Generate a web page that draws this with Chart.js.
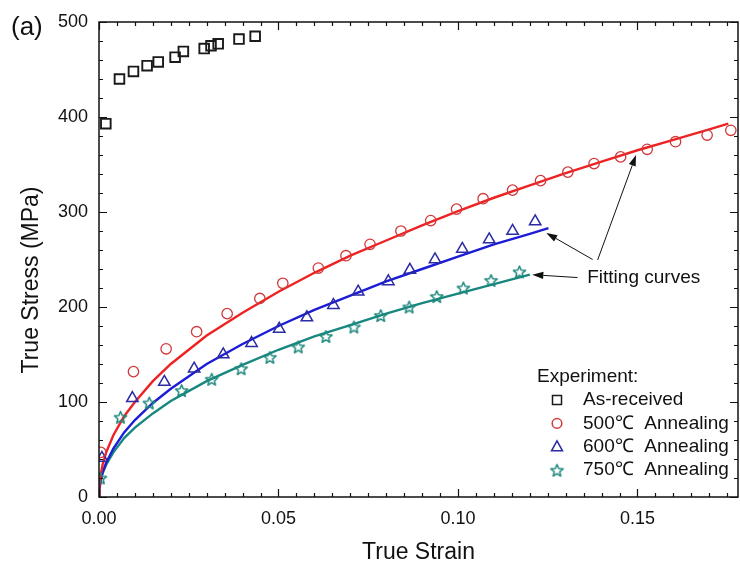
<!DOCTYPE html>
<html>
<head>
<meta charset="utf-8">
<title>True stress - true strain</title>
<script src="https://cdn.jsdelivr.net/npm/chart.js@4.4.1/dist/chart.umd.min.js"></script>
<style>
  html, body { margin: 0; padding: 0; background: #fff; }
</style>
</head>
<body>
<canvas id="chart" width="740" height="568"></canvas>
<script>
// ---- data ----
const xTicks = [0, 0.05, 0.10, 0.15];
const yTicks = [0, 100, 200, 300, 400, 500];

// experiment points (strain, MPa)
const asReceivedStrain = [0.0019, 0.0057, 0.0096, 0.0134, 0.0165, 0.0212, 0.0235, 0.0293, 0.0312, 0.0332, 0.0390, 0.0435];
const asReceivedStress = [393, 440, 448, 454, 458, 463, 469, 472, 475, 477, 482, 485];

const exp500Strain = [0.0005, 0.0096, 0.0187, 0.0272, 0.0357, 0.0448, 0.0512, 0.0611, 0.0688, 0.0755, 0.0841, 0.0924,
                      0.0996, 0.1070, 0.1152, 0.1230, 0.1306, 0.1379, 0.1453, 0.1527, 0.1606, 0.1694, 0.1760];
const exp500Stress = [47, 132, 156, 174, 193, 209, 225, 241, 254, 266, 280, 291, 303, 314, 323, 333, 342, 351, 358, 366, 374, 381, 386];

const exp600Strain = [0.0008, 0.0093, 0.0182, 0.0265, 0.0346, 0.0425, 0.0502, 0.0579, 0.0653, 0.0722, 0.0806, 0.0866,
                      0.0936, 0.1012, 0.1087, 0.1152, 0.1215];
const exp600Stress = [41, 104, 121, 135, 150, 162, 177, 189, 202, 216, 227, 239, 250, 261, 271, 280, 290];

const exp750Strain = [0.0004, 0.0060, 0.0140, 0.0230, 0.0314, 0.0396, 0.0476, 0.0555, 0.0632, 0.0710, 0.0785, 0.0864,
                      0.0941, 0.1015, 0.1092, 0.1171];
const exp750Stress = [20, 84, 99, 112, 124, 135, 147, 158, 169, 179, 191, 200, 211, 220, 228, 237];

// fitting curves
const fit500Strain = [0, 0.0001, 0.0005, 0.001, 0.002, 0.004, 0.007, 0.01, 0.015, 0.02, 0.03, 0.04, 0.05, 0.06, 0.07,
                      0.08, 0.09, 0.10, 0.11, 0.12, 0.13, 0.14, 0.15, 0.16, 0.17, 0.1753];
const fit500Stress = [0, 11, 24, 34, 47, 65, 85, 100, 122, 140, 170, 194, 216, 236, 254, 270, 286, 301, 315, 328, 341, 353, 365, 376, 387, 393];

const fit600Strain = [0, 0.0001, 0.0005, 0.001, 0.002, 0.004, 0.007, 0.01, 0.015, 0.02, 0.03, 0.04, 0.05, 0.06, 0.07,
                      0.08, 0.09, 0.10, 0.11, 0.12, 0.1252];
const fit600Stress = [0, 8, 18, 26, 36, 51, 68, 81, 99, 114, 140, 161, 180, 197, 212, 227, 240, 253, 266, 277, 283];

const fit750Strain = [0, 0.0001, 0.0005, 0.001, 0.002, 0.004, 0.007, 0.01, 0.015, 0.02, 0.03, 0.04, 0.05, 0.06, 0.07,
                      0.08, 0.09, 0.10, 0.11, 0.12];
const fit750Stress = [0, 8, 18, 25, 34, 47, 62, 73, 88, 101, 122, 139, 155, 169, 181, 193, 204, 214, 224, 234];

// ---- styling ----
const FONT = 'Arial, "Liberation Sans", sans-serif';
const INK = '#111';
const C = {
  square: '#1a1a1a', circle: '#d0393b', tri: '#2b2ba3', star: '#1d887d',
  line500: '#ee2222', line600: '#1c1cd6', line750: '#17877f'
};

function pts(xs, ys) { return xs.map((x, i) => ({ x, y: ys[i] })); }

// hollow 5-point star as a point image (Chart.js 'star' is an asterisk)
function makeStar(color, r) {
  const s = Math.ceil(r * 2 + 4);
  const c = document.createElement('canvas');
  c.width = s; c.height = s;
  const g = c.getContext('2d');
  g.strokeStyle = color;
  g.lineWidth = 1.5;
  g.lineJoin = 'round';
  g.beginPath();
  for (let i = 0; i < 10; i++) {
    const rr = i % 2 ? r * 0.45 : r;
    const a = -Math.PI / 2 + i * Math.PI / 5;
    const px = s / 2 + rr * Math.cos(a), py = s / 2 + 0.6 + rr * Math.sin(a);
    if (i) g.lineTo(px, py); else g.moveTo(px, py);
  }
  g.closePath();
  g.stroke();
  return c;
}
const starImg = makeStar(C.star, 6.4);

function lineSet(label, xs, ys, color) {
  return { label, data: pts(xs, ys), showLine: true, pointRadius: 0, borderColor: color,
           borderWidth: 2.4, backgroundColor: color, tension: 0 };
}
function markSet(label, xs, ys, color, style, r, bw) {
  return { label, data: pts(xs, ys), showLine: false, pointStyle: style, pointRadius: r,
           pointBorderWidth: bw, borderColor: color, backgroundColor: 'rgba(0,0,0,0)' };
}

// ticks on all four sides, pointing inward
const frameTicks = {
  id: 'frameTicks',
  afterDatasetsDraw(chart) {
    const { ctx, chartArea: a, scales: { x, y } } = chart;
    ctx.save();
    ctx.strokeStyle = INK;
    ctx.lineWidth = 1.5;
    ctx.strokeRect(a.left, a.top, a.right - a.left, a.bottom - a.top);
    ctx.lineWidth = 1.2;
    ctx.beginPath();
    for (let i = 0; i * 0.005 <= x.max + 1e-9; i++) {
      const px = Math.round(x.getPixelForValue(i * 0.005)) + 0.5;
      const len = i % 10 === 0 ? 8 : 4;
      ctx.moveTo(px, a.bottom); ctx.lineTo(px, a.bottom - len);
      ctx.moveTo(px, a.top); ctx.lineTo(px, a.top + len);
    }
    for (let v = 0; v <= y.max; v += 20) {
      const py = Math.round(y.getPixelForValue(v)) + 0.5;
      const len = v % 100 === 0 ? 8 : 4;
      ctx.moveTo(a.left, py); ctx.lineTo(a.left + len, py);
      ctx.moveTo(a.right, py); ctx.lineTo(a.right - len, py);
    }
    ctx.stroke();
    ctx.restore();
  }
};

function arrow(ctx, x1, y1, x2, y2) {
  const ang = Math.atan2(y2 - y1, x2 - x1);
  const L = 11, W = 3.6;
  const bx = x2 - L * Math.cos(ang), by = y2 - L * Math.sin(ang);
  ctx.beginPath();
  ctx.moveTo(x1, y1); ctx.lineTo(bx, by);
  ctx.stroke();
  ctx.beginPath();
  ctx.moveTo(x2, y2);
  ctx.lineTo(bx + W * Math.sin(ang), by - W * Math.cos(ang));
  ctx.lineTo(bx - W * Math.sin(ang), by + W * Math.cos(ang));
  ctx.closePath();
  ctx.fill();
}

// panel label, y title, legend and the "Fitting curves" note
const overlay = {
  id: 'overlay',
  afterDraw(chart) {
    const { ctx, scales: { x, y } } = chart;
    const P = (sx, sy) => [x.getPixelForValue(sx), y.getPixelForValue(sy)];
    ctx.save();
    ctx.fillStyle = INK;
    ctx.textBaseline = 'middle';

    ctx.font = '26px ' + FONT;
    ctx.fillText('(a)', 11, 28);

    ctx.save();
    ctx.translate(32, 280);
    ctx.rotate(-Math.PI / 2);
    ctx.textAlign = 'center';
    ctx.font = '23px ' + FONT;
    ctx.fillText('True Stress (MPa)', 0, 0);
    ctx.restore();

    // legend
    ctx.font = '19px ' + FONT;
    ctx.fillText('Experiment:', 537, 377);
    const rows = [
      ['As-received', 'square'], ['500\u2103  Annealing', 'circle'],
      ['600\u2103  Annealing', 'tri'], ['750\u2103  Annealing', 'star']
    ];
    rows.forEach(([txt, kind], i) => {
      const cy = 400 + i * 23.4, cx = 557;
      ctx.fillStyle = INK;
      ctx.fillText(txt, 583, cy);
      ctx.lineWidth = 1.5;
      if (kind === 'square') {
        ctx.strokeStyle = C.square;
        ctx.strokeRect(cx - 4.5, cy - 4.5, 9, 9);
      } else if (kind === 'circle') {
        ctx.strokeStyle = C.circle;
        ctx.beginPath(); ctx.arc(cx, cy, 4.8, 0, Math.PI * 2); ctx.stroke();
      } else if (kind === 'tri') {
        ctx.strokeStyle = C.tri;
        ctx.beginPath();
        ctx.moveTo(cx, cy - 6); ctx.lineTo(cx + 5.5, cy + 4); ctx.lineTo(cx - 5.5, cy + 4);
        ctx.closePath(); ctx.stroke();
      } else {
        ctx.drawImage(starImg, cx - starImg.width / 2, cy - starImg.height / 2);
      }
    });

    // annotation
    ctx.fillStyle = INK;
    ctx.font = '19px ' + FONT;
    const [tx, ty] = P(0.1360, 231);
    ctx.fillText('Fitting curves', tx, ty);
    ctx.strokeStyle = INK;
    ctx.lineWidth = 1;
    arrow(ctx, ...P(0.1333, 231), ...P(0.1207, 234));
    arrow(ctx, ...P(0.1375, 250), ...P(0.1246, 278));
    arrow(ctx, ...P(0.1389, 249.5), ...P(0.1496, 360));
    ctx.restore();
  }
};

new Chart(document.getElementById('chart').getContext('2d'), {
  type: 'scatter',
  data: {
    datasets: [
      markSet('As-received', asReceivedStrain, asReceivedStress, C.square, 'rect', 6.8, 1.9),
      markSet('500\u2103 Annealing', exp500Strain, exp500Stress, C.circle, 'circle', 5.2, 1.3),
      markSet('600\u2103 Annealing', exp600Strain, exp600Stress, C.tri, 'triangle', 6.6, 1.5),
      markSet('750\u2103 Annealing', exp750Strain, exp750Stress, C.star, starImg, 6, 1.3),
      lineSet('Fit 500', fit500Strain, fit500Stress, C.line500),
      lineSet('Fit 600', fit600Strain, fit600Stress, C.line600),
      lineSet('Fit 750', fit750Strain, fit750Stress, C.line750)
    ]
  },
  options: {
    responsive: false,
    animation: false,
    events: [],
    layout: { autoPadding: false, padding: { top: 22, right: 2, left: 0, bottom: 0 } },
    plugins: { legend: { display: false }, tooltip: { enabled: false } },
    scales: {
      x: {
        type: 'linear', min: 0, max: 0.178,
        grid: { display: false, drawTicks: false }, border: { display: false },
        afterBuildTicks: s => { s.ticks = xTicks.map(v => ({ value: v })); },
        afterFit: s => { s.height = 71; s.paddingLeft = 0; s.paddingRight = 0; },
        ticks: { padding: 11, color: INK, font: { family: FONT, size: 18 }, maxRotation: 0, autoSkip: false,
                 callback: v => Number(v).toFixed(2) },
        title: { display: true, text: 'True Strain', color: INK, font: { family: FONT, size: 23 },
                 padding: { top: 0, bottom: 2 } }
      },
      y: {
        type: 'linear', min: 0, max: 500,
        grid: { display: false, drawTicks: false }, border: { display: false },
        afterBuildTicks: s => { s.ticks = yTicks.map(v => ({ value: v })); },
        afterFit: s => { s.width = 99; s.paddingTop = 0; s.paddingBottom = 0; },
        ticks: { padding: 11, color: INK, font: { family: FONT, size: 18 } }
      }
    }
  },
  plugins: [frameTicks, overlay]
});
</script>
</body>
</html>
